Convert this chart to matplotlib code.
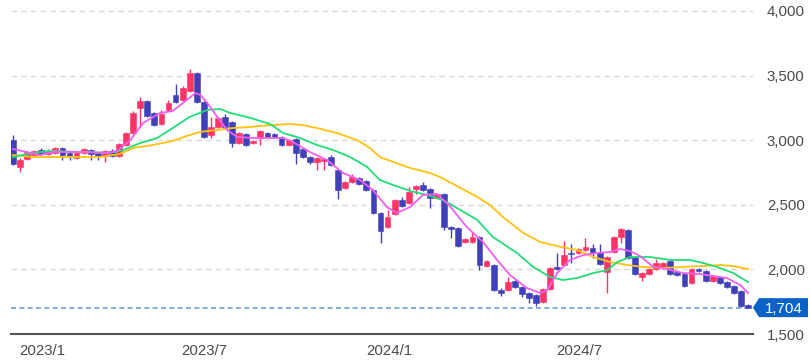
import matplotlib
matplotlib.use("Agg")
import matplotlib.pyplot as plt
from matplotlib.patches import Polygon
from matplotlib.ticker import FuncFormatter
from matplotlib.transforms import IdentityTransform
import numpy as np

plt.rcParams['font.family'] = ['Liberation Sans', 'DejaVu Sans']

# Weekly OHLC (week index 0..104)
opens = [3002, 2793, 2855, 2885, 2924, 2893, 2901, 2940, 2901, 2862,
         2901, 2924, 2901, 2878, 2916, 2878, 2963, 3056, 3249, 3303,
         3210, 3125, 3234, 3350, 3311, 3381, 3520, 3296, 3040, 3102,
         3180, 3141, 2978, 3048, 2978, 3017, 3056, 3048, 3025, 2963,
         3009, 2932, 2870, 2831, 2839, 2870, 2769, 2630, 2676, 2707,
         2684, 2615, 2437, 2328, 2429, 2537, 2514, 2622, 2653, 2622,
         2553, 2584, 2328, 2320, 2212, 2212, 2251, 2026, 2034, 1841,
         1841, 1910, 1864, 1817, 1802, 1748, 1848, 2019, 2034, 2127,
         2127, 2150, 2166, 2135, 1980, 2135, 2251, 2305, 2096, 1941,
         1964, 2003, 2011, 2065, 1980, 1964, 1895, 2003, 1988, 1910,
         1941, 1902, 1872, 1833, 1724]
highs = [3040, 2862, 2916, 2924, 2940, 2932, 2947, 2947, 2916, 2909,
         2940, 2932, 2909, 2924, 2932, 2978, 3063, 3226, 3334, 3311,
         3218, 3234, 3311, 3435, 3420, 3551, 3528, 3303, 3180, 3180,
         3203, 3149, 3063, 3056, 3002, 3079, 3063, 3056, 3033, 3009,
         3017, 2940, 2878, 2870, 2862, 2885, 2777, 2684, 2738, 2715,
         2692, 2622, 2444, 2460, 2545, 2560, 2638, 2653, 2676, 2630,
         2591, 2591, 2336, 2328, 2243, 2289, 2259, 2073, 2042, 1856,
         1941, 1918, 1872, 1825, 1810, 1856, 2019, 2127, 2220, 2197,
         2166, 2243, 2197, 2197, 2104, 2259, 2320, 2313, 2104, 1980,
         2011, 2081, 2057, 2073, 1988, 1972, 2011, 2011, 1995, 1957,
         1949, 1910, 1879, 1841, 1732]
lows = [2808, 2754, 2847, 2878, 2885, 2885, 2893, 2847, 2847, 2855,
        2893, 2847, 2847, 2831, 2870, 2870, 2955, 3048, 3102, 3180,
        3110, 3118, 3226, 3288, 3303, 3373, 3288, 3017, 3017, 3094,
        3094, 2947, 2971, 2955, 2971, 2963, 3017, 3017, 2955, 2955,
        2816, 2862, 2816, 2769, 2769, 2800, 2545, 2622, 2669, 2653,
        2607, 2429, 2204, 2320, 2421, 2483, 2506, 2584, 2607, 2475,
        2545, 2305, 2243, 2173, 2204, 2204, 1995, 2019, 1833, 1794,
        1833, 1856, 1786, 1740, 1717, 1740, 1841, 1995, 2026, 2050,
        2119, 2142, 2088, 2034, 1817, 2127, 2204, 2081, 1957, 1910,
        1957, 1995, 2003, 1957, 1949, 1864, 1887, 1980, 1902, 1902,
        1887, 1856, 1810, 1709, 1701]
closes = [2816, 2847, 2909, 2916, 2893, 2916, 2940, 2885, 2878, 2901,
          2932, 2893, 2878, 2916, 2878, 2971, 3056, 3210, 3303, 3187,
          3118, 3203, 3288, 3296, 3404, 3520, 3296, 3025, 3102, 3172,
          3102, 2978, 3056, 2963, 2994, 3071, 3025, 3025, 2963, 3002,
          2901, 2870, 2831, 2862, 2855, 2808, 2615, 2676, 2715, 2661,
          2615, 2437, 2297, 2406, 2537, 2491, 2599, 2646, 2615, 2553,
          2584, 2328, 2313, 2181, 2235, 2251, 2034, 2065, 1841, 1817,
          1902, 1864, 1810, 1779, 1740, 1848, 2011, 2003, 2111, 2119,
          2158, 2173, 2127, 2042, 2096, 2251, 2313, 2088, 1964, 1972,
          2003, 2050, 2050, 1964, 1957, 1872, 2003, 1988, 1910, 1949,
          1895, 1864, 1817, 1717, 1704]

# Moving averages (week index, value)
ma_short_idx = [0, 3.8, 5.7, 9.9, 13.7, 14.9, 16.6, 18.4, 20.8, 22.6, 24.6, 25.8, 26.5,
                27.5, 28.9, 30.3, 31.7, 34.0, 36.4, 38.2, 39.6, 42.0, 44.4, 46.7, 49.1,
                50.9, 52.9, 54.3, 56.2, 58.0, 60.0, 61.8, 64.2, 66.5, 68.5, 70.3, 72.7,
                74.6, 75.6, 77.0, 78.8, 80.7, 82.6, 84.5, 85.9, 87.3, 88.7, 90.6, 92.5,
                94.8, 97.2, 99.1, 101.0, 102.9, 104.0]
ma_short_val = [2932, 2885, 2909, 2909, 2901, 2924, 3001, 3133, 3210, 3226, 3311, 3365, 3350,
                3288, 3180, 3079, 3025, 3017, 3017, 3017, 2986, 2909, 2847, 2746, 2692,
                2615, 2483, 2437, 2483, 2576, 2584, 2491, 2328, 2212, 2073, 1957, 1856,
                1817, 1841, 1972, 2073, 2111, 2127, 2135, 2158, 2142, 2104, 2019, 2003,
                1972, 1964, 1949, 1933, 1879, 1817]
ma_mid_idx = [0, 2.8, 5.2, 9.9, 13.7, 15.6, 18.0, 20.4, 22.6, 25.0, 27.5, 29.3, 30.7, 33.1,
              36.4, 38.2, 40.6, 43.0, 45.3, 47.7, 50.1, 51.9, 53.8, 56.2, 58.6, 60.8, 63.3,
              65.7, 67.9, 71.3, 73.6, 76.0, 77.8, 79.8, 82.1, 84.1, 85.5, 87.3, 90.1, 93.0,
              95.8, 97.6, 99.6, 101.9, 104.0]
ma_mid_val = [2870, 2901, 2916, 2909, 2901, 2924, 2978, 3017, 3094, 3180, 3234, 3242, 3211, 3180,
              3125, 3056, 3017, 2963, 2924, 2870, 2793, 2692, 2653, 2607, 2576, 2537, 2460,
              2382, 2251, 2127, 2019, 1941, 1918, 1933, 1972, 1995, 2057, 2096, 2096, 2073,
              2073, 2050, 2019, 1972, 1902]
ma_long_idx = [0, 2.8, 7.6, 12.3, 15.1, 17.0, 19.8, 22.6, 24.6, 26.5, 28.9, 31.1, 33.5, 36.4,
               39.2, 41.0, 43.0, 45.8, 48.7, 50.5, 51.9, 53.8, 56.2, 59.0, 60.4, 62.8, 65.7,
               67.5, 69.3, 72.2, 74.6, 77.0, 79.8, 82.1, 84.5, 86.9, 89.1, 92.0, 94.8, 97.6,
               100.0, 101.9, 104.0]
ma_long_val = [2885, 2870, 2870, 2870, 2893, 2940, 2963, 2994, 3033, 3064, 3079, 3094, 3102, 3117,
               3125, 3117, 3094, 3056, 3001, 2940, 2870, 2831, 2785, 2746, 2715, 2646, 2560,
               2498, 2406, 2282, 2212, 2181, 2150, 2096, 2057, 2034, 2019, 2011, 2019, 2026,
               2034, 2026, 2003]

x_tick_pos = [4.1, 27.0, 53.2, 80.1]
x_tick_labels = ["2023/1", "2023/7", "2024/1", "2024/7"]
y_ticks = [1500, 2000, 2500, 3000, 3500, 4000]

UP = '#ff3366'
DOWN = '#4040b8'

W, H = 811, 363
fig = plt.figure(figsize=(W / 100, H / 100), dpi=100)
ax = fig.add_axes([11 / W, 29 / H, 742 / W, 330 / H])

x = np.arange(len(closes))
o = np.array(opens); c = np.array(closes)
colors = [UP if cc >= oo else DOWN for oo, cc in zip(o, c)]
ax.vlines(x, lows, highs, colors=colors, linewidth=1.0, zorder=2)
ax.bar(x, np.abs(c - o), bottom=np.minimum(o, c), width=0.82, color=colors,
       edgecolor=colors, linewidth=0.4, zorder=3)

ax.plot(ma_long_idx, ma_long_val, color='#ffc20e', lw=1.3, zorder=4)
ax.plot(ma_mid_idx, ma_mid_val, color='#22dd77', lw=1.3, zorder=5)
ax.plot(ma_short_idx, ma_short_val, color='#f060f0', lw=1.3, zorder=6)

ax.axhline(closes[-1], color='#6fa0dc', lw=1.2, ls=(0, (3, 2)), zorder=1)

ax.set_xlim(-0.28, 104.7)
ax.set_ylim(1500, 4054)
ax.set_yticks(y_ticks)
ax.yaxis.set_major_formatter(FuncFormatter(lambda v, p: f"{int(v):,}"))
ax.yaxis.tick_right()
ax.set_xticks(x_tick_pos)
ax.set_xticklabels(x_tick_labels)
ax.tick_params(axis='y', length=0, pad=10, labelsize=10.8, labelcolor='#4a4a4a')
ax.tick_params(axis='x', length=0, pad=7, labelsize=10.8, labelcolor='#4a4a4a')
ax.grid(axis='y', color='#d9d9d9', lw=1, ls=(0, (4, 3)), zorder=0)
ax.set_axisbelow(True)
for s in ['top', 'left', 'right']:
    ax.spines[s].set_visible(False)
ax.spines['bottom'].set_color('#555555')
ax.spines['bottom'].set_linewidth(1.5)

# last price tag
fig.canvas.draw()
yd = ax.transData.transform((0, closes[-1]))[1]
xr = ax.transAxes.transform((1, 0))[0]
pts = [(xr, yd), (xr + 6, yd + 9.5), (xr + 55, yd + 9.5), (xr + 55, yd - 9.5), (xr + 6, yd - 9.5)]
fig.add_artist(Polygon(pts, closed=True, facecolor='#0a62c8', edgecolor='none',
                       transform=IdentityTransform()))
fig.text((xr + 30.5) / W, yd / H, f"{closes[-1]:,}", ha='center', va='center_baseline',
         color='white', fontsize=10.8)

fig.savefig('out.png', dpi=100)
